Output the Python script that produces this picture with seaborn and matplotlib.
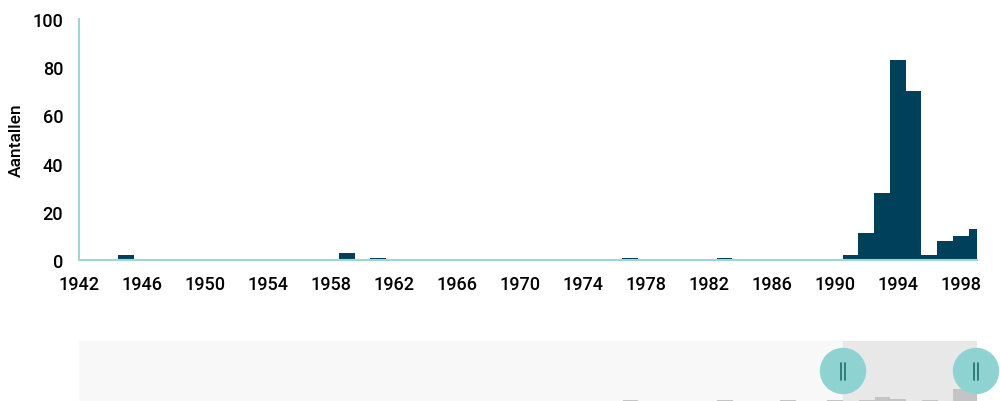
import matplotlib
matplotlib.use("Agg")
import matplotlib.pyplot as plt
import seaborn as sns
from matplotlib.patches import Ellipse, Rectangle
from matplotlib.lines import Line2D

# jaartallen en aantallen (hoofdgrafiek)
years = [1945, 1959, 1961, 1977, 1983, 1991, 1992, 1993, 1994, 1995, 1996, 1997, 1998, 1999]
counts = [2, 3, 1, 1, 1, 2, 11, 28, 83, 70, 2, 8, 10, 13]

# navigator-reeks (alleen de bovenkant valt binnen beeld)
nav_years = [1977, 1983, 1987, 1990, 1992, 1993, 1994, 1996, 1998, 1999]
nav_counts = [1, 1, 1, 2, 2, 6, 3, 2, 20, 23]

x_ticks = list(range(1942, 1999, 4))
y_ticks = [0, 20, 40, 60, 80, 100]

BAR = "#00405a"
AXIS = "#9fd6d3"
HANDLE = "#8ed3d2"

sns.set_theme(style="white")
plt.rcParams["font.family"] = ["Roboto", "DejaVu Sans"]

W, H = 1000, 402
fig = plt.figure(figsize=(W / 100, H / 100), dpi=100)


def fx(px):
    return px / W


def fy(py):
    return 1 - py / H


# hoofdgrafiek
ax = fig.add_axes([fx(79), fy(261), fx(976.5) - fx(79), fy(20) - fy(261)])
sns.histplot(x=years, weights=counts, discrete=True, color=BAR, alpha=1,
             edgecolor=BAR, linewidth=0, ax=ax)
ax.set_xlim(1942, 1999)
ax.set_ylim(0, 100)
ax.set_xticks(x_ticks)
ax.set_yticks(y_ticks)
ax.set_xlabel("")
ax.set_ylabel("Aantallen", fontsize=12.5, fontweight="medium", color="black", labelpad=6)
for s in ["top", "right"]:
    ax.spines[s].set_visible(False)
for s in ["left", "bottom"]:
    ax.spines[s].set_color(AXIS)
    ax.spines[s].set_linewidth(1.5)
ax.tick_params(axis="both", which="both", length=6.5, width=1.5, color=AXIS,
               labelsize=13, labelcolor="black", direction="out")
ax.tick_params(axis="x", pad=4)
ax.tick_params(axis="y", pad=5)
for lab in ax.get_xticklabels() + ax.get_yticklabels():
    lab.set_fontweight("medium")
ax.grid(False)

# navigator
nav = fig.add_axes([fx(79), fy(402), fx(977) - fx(79), fy(342) - fy(402)])
nav.add_patch(Rectangle((1942, 0), 1999 - 1942, 100, color="#f8f8f8", zorder=0))
nav.add_patch(Rectangle((1990.5, 0), 1999 - 1990.5, 100, color="#e8e8e8", zorder=0))
sns.histplot(x=nav_years, weights=nav_counts, discrete=True, color="#c4c4c4",
             alpha=1, linewidth=0, ax=nav)
nav.set_xlim(1942, 1999)
nav.set_ylim(0, 100)
nav.set_axis_off()

# handvatten
for hx in [843, 976]:
    fig.patches.append(Ellipse((fx(hx), fy(372)), 45 / W, 45 / H,
                               transform=fig.transFigure, color=HANDLE, zorder=5))
    for dx in [-2, 2]:
        fig.lines.append(Line2D([fx(hx + dx)] * 2, [fy(364), fy(381)],
                                transform=fig.transFigure, color="#1e6e6e",
                                linewidth=1.2, zorder=6))

fig.savefig("out.png", dpi=100)
